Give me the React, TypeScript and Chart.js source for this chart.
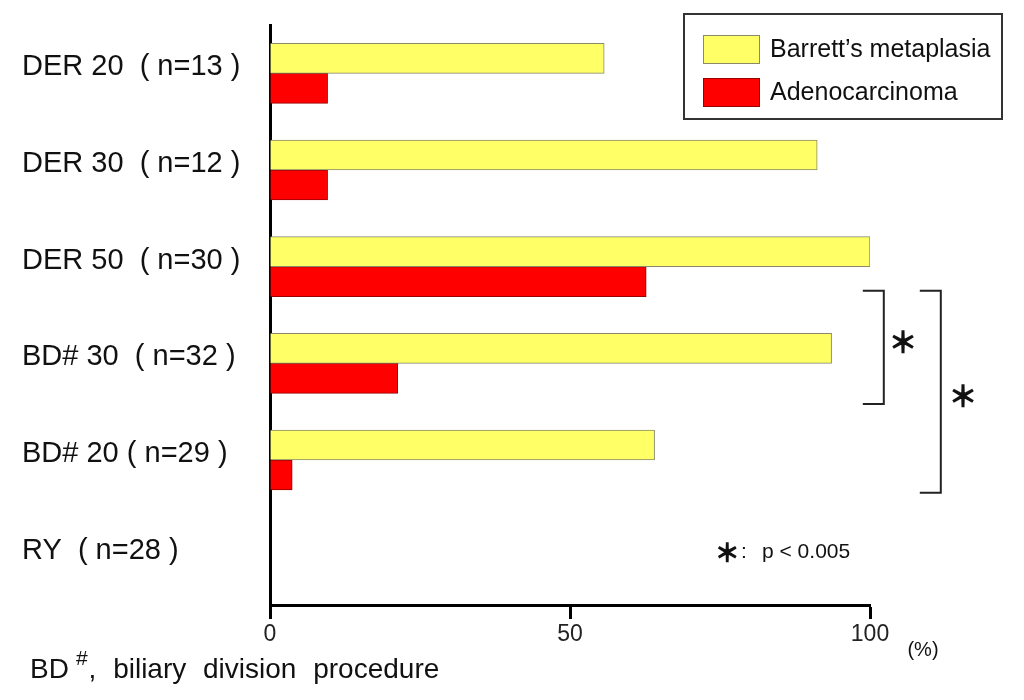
import { useEffect, useRef } from "react";
import { Chart, registerables } from "chart.js";

Chart.register(...registerables);

const categories = [
  "DER 20  ( n=13 )",
  "DER 30  ( n=12 )",
  "DER 50  ( n=30 )",
  "BD# 30  ( n=32 )",
  "BD# 20 ( n=29 )",
  "RY  ( n=28 )",
];
const seriesNames = ["Barrett\u2019s metaplasia", "Adenocarcinoma"];
const barrettValues = [55.7, 91.2, 100, 93.6, 64.1, 0];
const adenoValues = [9.6, 9.6, 62.7, 21.3, 3.7, 0];
const xTickValues = [0, 50, 100];

// significance brackets, in scale units (x = %, y = category index)
const brackets = [
  { x0: 98.8, x1: 102.3, top: 2.25, bottom: 3.42, starX: 105.5, starY: 2.78 },
  { x0: 108.3, x1: 111.8, top: 2.25, bottom: 4.34, starX: 115.5, starY: 3.34 },
];

const FONT = '"Liberation Sans", Arial, sans-serif';
const STAR = '"Noto Sans CJK JP", "DejaVu Sans", sans-serif';

// heavier asterisk: fill + thin stroke of the same glyph
function drawStar(ctx: CanvasRenderingContext2D, x: number, y: number, size: number) {
  ctx.save();
  ctx.font = `${size}px ${STAR}`;
  ctx.textAlign = "center";
  ctx.textBaseline = "middle";
  ctx.fillStyle = "#111";
  ctx.strokeStyle = "#111";
  ctx.lineWidth = 1.6;
  ctx.fillText("\uFF0A", x, y);
  ctx.strokeText("\uFF0A", x, y);
  ctx.restore();
}

const extras = {
  id: "extras",
  afterDraw(chart: Chart) {
    const { ctx, chartArea, scales } = chart;
    const xs = scales.x;
    const ys = scales.y;
    ctx.save();

    // brackets + stars
    ctx.strokeStyle = "#222";
    ctx.lineWidth = 2;
    for (const b of brackets) {
      const xa = xs.getPixelForValue(b.x0);
      const xb = xs.getPixelForValue(b.x1);
      const ya = ys.getPixelForValue(b.top);
      const yb = ys.getPixelForValue(b.bottom);
      ctx.beginPath();
      ctx.moveTo(xa, ya);
      ctx.lineTo(xb, ya);
      ctx.lineTo(xb, yb);
      ctx.lineTo(xa, yb);
      ctx.stroke();
      drawStar(ctx, xs.getPixelForValue(b.starX), ys.getPixelForValue(b.starY), 28);
    }

    // p-value note
    const noteY = ys.getPixelForValue(4.95);
    drawStar(ctx, xs.getPixelForValue(76.2), noteY, 24);
    ctx.fillStyle = "#111";
    ctx.textBaseline = "middle";
    ctx.font = `21px ${FONT}`;
    ctx.textAlign = "center";
    ctx.fillText(":", xs.getPixelForValue(79), noteY);
    ctx.textAlign = "left";
    ctx.fillText("p < 0.005", xs.getPixelForValue(82), noteY);

    // unit
    ctx.font = `20px ${FONT}`;
    ctx.textAlign = "center";
    ctx.fillText("(%)", chartArea.right + 53, chartArea.bottom + 45);

    // footnote
    ctx.textAlign = "left";
    ctx.font = `28px ${FONT}`;
    ctx.fillText("BD", 30, 670);
    const bdW = ctx.measureText("BD").width;
    ctx.font = `21px ${FONT}`;
    ctx.fillText("#", 30 + bdW + 7, 659);
    const hashW = ctx.measureText("#").width;
    ctx.font = `28px ${FONT}`;
    (ctx as any).wordSpacing = "9px";
    ctx.fillText(", biliary division procedure", 30 + bdW + 7 + hashW + 1, 670);
    (ctx as any).wordSpacing = "0px";

    // legend
    const lx = chart.width - 340;
    const ly = 14;
    ctx.lineWidth = 2;
    ctx.strokeStyle = "#333";
    ctx.strokeRect(lx, ly, 318, 105);
    chart.data.datasets.forEach((ds, i) => {
      const sy = ly + 21 + i * 43;
      ctx.fillStyle = ds.backgroundColor as string;
      ctx.fillRect(lx + 19, sy, 57, 29);
      ctx.lineWidth = 1;
      ctx.strokeStyle = ds.borderColor as string;
      ctx.strokeRect(lx + 19.5, sy + 0.5, 56, 28);
      ctx.fillStyle = "#111";
      ctx.font = `25px ${FONT}`;
      ctx.textAlign = "left";
      ctx.textBaseline = "middle";
      ctx.fillText(ds.label as string, lx + 86, sy + 15);
    });

    ctx.restore();
  },
};

export default function App() {
  const canvasRef = useRef<HTMLCanvasElement>(null);
  const chartRef = useRef<Chart | null>(null);

  useEffect(() => {
    if (!canvasRef.current) return;
    const ctx = canvasRef.current.getContext("2d");
    if (!ctx) return;

    chartRef.current = new Chart(ctx, {
      type: "bar",
      data: {
        labels: categories,
        datasets: [
          {
            label: seriesNames[0],
            data: barrettValues,
            backgroundColor: "#FFFF66",
            borderColor: "#8a8a6a",
            borderWidth: 1,
            barThickness: 30,
          },
          {
            label: seriesNames[1],
            data: adenoValues,
            backgroundColor: "#FF0000",
            borderColor: "#990000",
            borderWidth: 1,
            barThickness: 30,
          },
        ],
      },
      options: {
        indexAxis: "y",
        responsive: false,
        animation: false,
        layout: { padding: { left: 22, top: 25, right: 154, bottom: 0 } },
        plugins: {
          legend: { display: false },
          tooltip: { enabled: false },
        },
        scales: {
          x: {
            min: 0,
            max: 100,
            afterFit: (scale) => {
              scale.height = 95;
            },
            afterBuildTicks: (scale) => {
              scale.ticks = xTickValues.map((v) => ({ value: v }));
            },
            border: { display: true, color: "#000", width: 3 },
            grid: {
              drawOnChartArea: false,
              drawTicks: true,
              tickLength: 14,
              tickWidth: 3,
              tickColor: "#000",
            },
            ticks: {
              color: "#222",
              padding: 2,
              font: { family: FONT, size: 23 },
            },
          },
          y: {
            afterFit: (scale) => {
              scale.width = 248;
            },
            border: { display: true, color: "#000", width: 3 },
            grid: { drawOnChartArea: false, drawTicks: false },
            ticks: {
              color: "#111",
              crossAlign: "far",
              labelOffset: -6,
              font: { family: FONT, size: 29 },
            },
          },
        },
      },
      plugins: [extras],
    });

    return () => {
      if (chartRef.current) {
        chartRef.current.destroy();
        chartRef.current = null;
      }
    };
  }, []);

  return (
    <div style={{ position: "absolute", left: 0, top: 0, width: 1024, height: 700, background: "#fff" }}>
      <canvas ref={canvasRef} width={1024} height={700} />
    </div>
  );
}
